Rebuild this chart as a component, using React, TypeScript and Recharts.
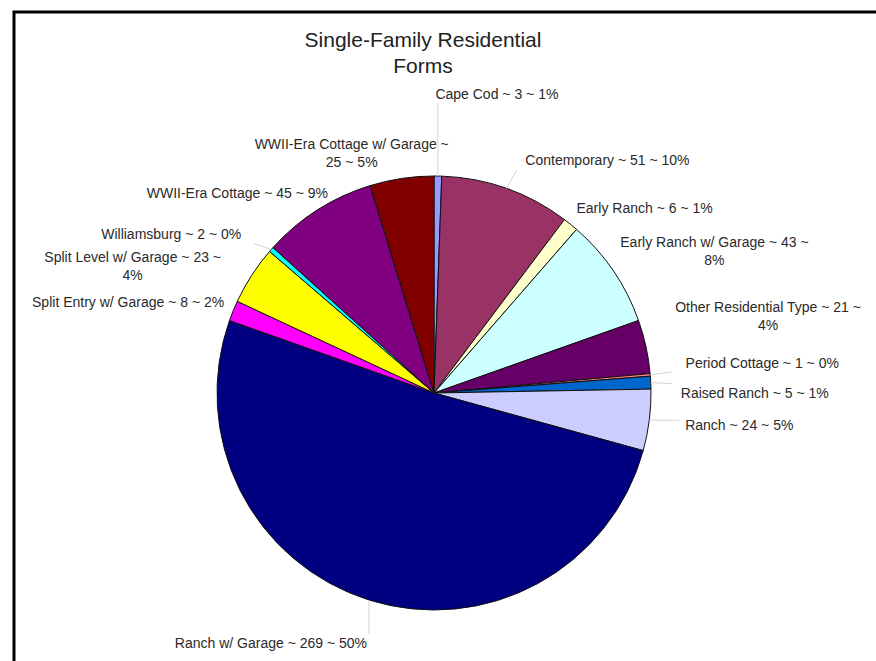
import React from "react";
import { PieChart, Pie, Cell } from "recharts";

const houseForms = [
  "Cape Cod",
  "Contemporary",
  "Early Ranch",
  "Early Ranch w/ Garage",
  "Other Residential Type",
  "Period Cottage",
  "Raised Ranch",
  "Ranch",
  "Ranch w/ Garage",
  "Split Entry w/ Garage",
  "Split Level w/ Garage",
  "Williamsburg",
  "WWII-Era Cottage",
  "WWII-Era Cottage w/ Garage",
];
const formCounts = [3, 51, 6, 43, 21, 1, 5, 24, 269, 8, 23, 2, 45, 25];
const formShares = [1, 10, 1, 8, 4, 0, 1, 5, 50, 2, 4, 0, 9, 5];

const sliceColors = [
  "#9999FF",
  "#993366",
  "#FFFFCC",
  "#CCFFFF",
  "#660066",
  "#FF8080",
  "#0066CC",
  "#CCCCFF",
  "#000080",
  "#FF00FF",
  "#FFFF00",
  "#00FFFF",
  "#800080",
  "#800000",
];

// label nudges from the slice edge point (centre of the text block)
const labelNudge: Record<string, [number, number]> = {
  "Cape Cod": [59, -82],
  Contemporary: [101, -28],
  "Early Ranch": [74, -16],
  "Early Ranch w/ Garage": [101, -20],
  "Other Residential Type": [122, -31],
  "Period Cottage": [112, -12],
  "Raised Ranch": [104, 10],
  Ranch: [90, 5],
  "Ranch w/ Garage": [-98, 43],
  "Split Entry w/ Garage": [-105, -9],
  "Split Level w/ Garage": [-119, -9],
  Williamsburg: [-100, -15],
  "WWII-Era Cottage": [-80, -17],
  "WWII-Era Cottage w/ Garage": [-50, -25],
};

const data = houseForms.map((name, i) => ({
  name,
  value: formCounts[i],
  share: formShares[i],
}));

const RAD = Math.PI / 180;
const LINE_H = 18;
const FONT = "'Liberation Sans', Arial, sans-serif";

function wrapLabel(text: string): string[] {
  if (text.length <= 30) return [text];
  const words = text.split(" ");
  const lines: string[] = [];
  let cur = "";
  words.forEach((w) => {
    const next = cur ? cur + " " + w : w;
    if (next.length > 29 && cur) {
      lines.push(cur);
      cur = w;
    } else {
      cur = next;
    }
  });
  if (cur) lines.push(cur);
  return lines;
}

function renderLabel(props: any) {
  const { cx, cy, midAngle, outerRadius, payload, index } = props;
  const name = payload?.name ?? houseForms[index];
  const share = payload?.share ?? formShares[index];
  const value = payload?.value ?? formCounts[index];
  const ex = cx + outerRadius * Math.cos(-midAngle * RAD);
  const ey = cy + outerRadius * Math.sin(-midAngle * RAD);
  const [dx, dy] = labelNudge[name] ?? [0, 0];
  const lx = ex + dx;
  const ly = ey + dy;
  const lines = wrapLabel(`${name} ~ ${value} ~ ${share}%`);
  const longest = Math.max(...lines.map((l) => l.length));
  const halfW = (longest * 7.6) / 2 + 3;
  const halfH = (lines.length * LINE_H) / 2;
  const tx = Math.min(Math.max(ex, lx - halfW), lx + halfW);
  const ty = Math.min(Math.max(ey, ly - halfH), ly + halfH);
  const dist = Math.hypot(tx - ex, ty - ey);
  return (
    <g key={`lbl-${index}`}>
      {dist > 18 && (
        <polyline
          points={`${ex},${ey} ${tx},${ty}`}
          fill="none"
          stroke="#d4d4d4"
          strokeWidth={1}
        />
      )}
      <text x={lx} y={ly} textAnchor="middle" fill="#2a2a2a" fontSize={14} fontFamily={FONT}>
        {lines.map((l, k) => (
          <tspan
            key={k}
            x={lx}
            y={ly - halfH + LINE_H * k + LINE_H / 2}
            dominantBaseline="central"
          >
            {l}
          </tspan>
        ))}
      </text>
    </g>
  );
}

export default function App() {
  return (
    <div
      style={{
        position: "absolute",
        left: 0,
        top: 0,
        width: 876,
        height: 661,
        background: "#fff",
        overflow: "hidden",
      }}
    >
      <PieChart width={876} height={661} margin={{ top: 0, right: 0, bottom: 0, left: 0 }}>
        <Pie
          data={data}
          dataKey="value"
          nameKey="name"
          cx={434}
          cy={393}
          outerRadius={217}
          startAngle={90}
          endAngle={-270}
          stroke="#111"
          strokeWidth={1}
          labelLine={false}
          label={renderLabel}
          isAnimationActive={false}
        >
          {data.map((d, i) => (
            <Cell key={d.name} fill={sliceColors[i]} />
          ))}
        </Pie>
      </PieChart>
      <svg
        width={876}
        height={661}
        style={{ position: "absolute", left: 0, top: 0, pointerEvents: "none" }}
      >
        <rect x={14} y={12} width={900} height={700} fill="none" stroke="#000" strokeWidth={3} />
        <text x={423} y={47} textAnchor="middle" fontSize={21} fill="#222" fontFamily={FONT}>
          Single-Family Residential
        </text>
        <text x={423} y={73} textAnchor="middle" fontSize={21} fill="#222" fontFamily={FONT}>
          Forms
        </text>
      </svg>
    </div>
  );
}
